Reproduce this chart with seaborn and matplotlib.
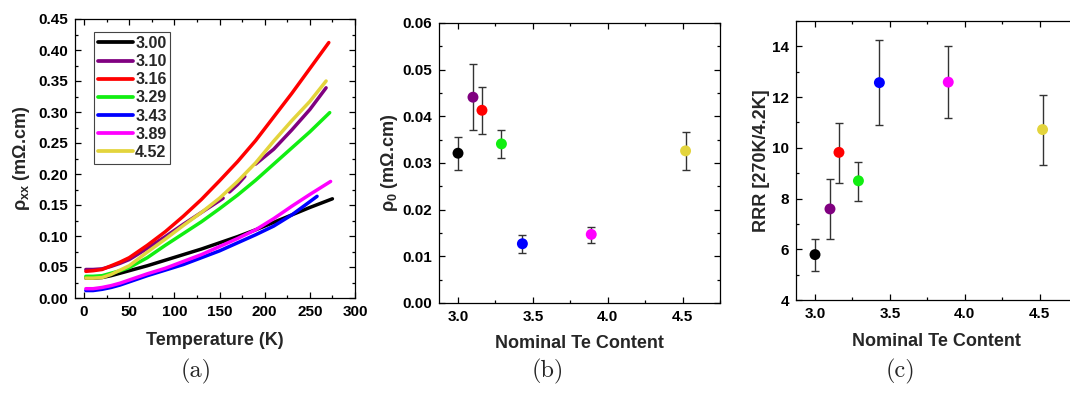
import numpy as np
import pandas as pd
import matplotlib
matplotlib.use("Agg")
import matplotlib.pyplot as plt
from matplotlib.ticker import MultipleLocator, FormatStrFormatter
import seaborn as sns

# ---------------- data ----------------
labels = ["3.00", "3.10", "3.16", "3.29", "3.43", "3.89", "4.52"]
te_content = [3.00, 3.10, 3.16, 3.29, 3.43, 3.89, 4.52]
colors = ["#000000", "#800080", "#FF0000", "#11EE11", "#0000FF", "#FF00FF", "#E3D43C"]

# panel (a): resistivity vs temperature
T_300 = [2, 10, 20, 30, 40, 50, 70, 90, 110, 130, 150, 170, 190, 210, 230, 250, 275]
R_300 = [0.032, 0.032, 0.033, 0.036, 0.040, 0.044, 0.052, 0.061, 0.070, 0.079, 0.089, 0.099,
         0.110, 0.122, 0.134, 0.146, 0.160]
T_310 = [2, 10, 20, 30, 40, 50, 70, 90, 110, 130, 150, 154, np.nan, 161, 170, 178, np.nan,
         190, 210, 230, 250, 268]
R_310 = [0.046, 0.046, 0.047, 0.051, 0.056, 0.062, 0.080, 0.099, 0.119, 0.138, 0.157, 0.161,
         np.nan, 0.171, 0.183, 0.196, np.nan, 0.216, 0.240, 0.271, 0.304, 0.339]
T_316 = [2, 10, 20, 30, 40, 50, 70, 90, 110, 130, 150, 170, 190, 210, 230, 250, 271]
R_316 = [0.043, 0.044, 0.046, 0.052, 0.058, 0.065, 0.085, 0.107, 0.132, 0.159, 0.189, 0.220,
         0.254, 0.292, 0.330, 0.370, 0.412]
T_329 = [2, 10, 20, 30, 40, 50, 70, 90, 110, 130, 150, 170, 190, 210, 230, 250, 272]
R_329 = [0.035, 0.035, 0.036, 0.040, 0.044, 0.049, 0.065, 0.085, 0.104, 0.123, 0.144, 0.166,
         0.190, 0.216, 0.242, 0.268, 0.299]
T_343 = [2, 10, 20, 30, 40, 50, 70, 90, 110, 130, 150, 170, 190, 210, 230, 245, 258]
R_343 = [0.012, 0.012, 0.014, 0.017, 0.021, 0.026, 0.036, 0.045, 0.054, 0.065, 0.076, 0.089,
         0.102, 0.116, 0.134, 0.150, 0.164]
T_389 = [2, 10, 20, 30, 40, 50, 70, 90, 110, 130, 150, 170, 190, 210, 230, 250, 273]
R_389 = [0.015, 0.015, 0.017, 0.020, 0.024, 0.029, 0.039, 0.048, 0.059, 0.070, 0.083, 0.096,
         0.110, 0.128, 0.148, 0.167, 0.188]
T_452 = [2, 10, 20, 30, 40, 50, 70, 90, 110, 130, 150, 170, 190, 210, 230, 250, 268]
R_452 = [0.032, 0.032, 0.033, 0.038, 0.045, 0.052, 0.074, 0.095, 0.117, 0.138, 0.161, 0.188,
         0.218, 0.253, 0.286, 0.317, 0.350]

# panel (b): residual resistivity
rho0 = [0.0321, 0.0441, 0.0413, 0.0341, 0.0127, 0.0147, 0.0326]
rho0_lo = [0.0284, 0.0370, 0.0363, 0.0310, 0.0108, 0.0129, 0.0284]
rho0_hi = [0.0356, 0.0512, 0.0463, 0.0371, 0.0145, 0.0163, 0.0367]

# panel (c): residual resistance ratio
rrr = [5.79, 7.59, 9.82, 8.70, 12.57, 12.59, 10.72]
rrr_lo = [5.13, 6.39, 8.63, 7.92, 10.89, 11.17, 9.33]
rrr_hi = [6.39, 8.78, 10.99, 9.43, 14.24, 14.00, 12.10]

# ---------------- style ----------------
sns.set_style("ticks")
plt.rcParams["font.family"] = ["Liberation Sans", "DejaVu Sans"]
plt.rcParams["font.weight"] = "bold"
plt.rcParams["mathtext.fontset"] = "custom"
plt.rcParams["mathtext.rm"] = "Liberation Sans"
plt.rcParams["mathtext.it"] = "Liberation Sans:italic"
plt.rcParams["mathtext.bf"] = "Liberation Sans:bold"
plt.rcParams["axes.edgecolor"] = "black"
plt.rcParams["axes.linewidth"] = 0.9

fig = plt.figure(figsize=(10.7, 4.09), dpi=100)
W, H = 1070, 409


def add_ax(l, t, r, b):
    return fig.add_axes([l / W, 1 - b / H, (r - l) / W, (b - t) / H])


ax_a = add_ax(75, 19, 355, 298)
ax_b = add_ax(439, 23, 720, 303)
ax_c = add_ax(796, 21, 1077, 300)

TICK_FS = 11
LABEL_FS = 13


def style_axis(ax):
    ax.tick_params(which="both", direction="in", top=True, right=True,
                   labelsize=TICK_FS, colors="black", width=0.9)
    ax.tick_params(which="major", length=4.5, pad=5)
    ax.tick_params(which="minor", length=2.5)
    for lab in ax.get_xticklabels() + ax.get_yticklabels():
        lab.set_fontweight("bold")
    for s in ax.spines.values():
        s.set_visible(True)
        s.set_color("black")


# ---------------- panel (a) ----------------
series_T = [T_300, T_310, T_316, T_329, T_343, T_389, T_452]
series_R = [R_300, R_310, R_316, R_329, R_343, R_389, R_452]
rows = []
for lab, Ts, Rs in zip(labels, series_T, series_R):
    seg = 0
    for t, r in zip(Ts, Rs):
        if np.isnan(t):
            seg += 1
            continue
        rows.append({"T": t, "rho": r, "Te": lab, "seg": seg})
df_a = pd.DataFrame(rows)

sns.lineplot(data=df_a, x="T", y="rho", hue="Te", hue_order=labels,
             palette=colors, units="seg", estimator=None, sort=False,
             linewidth=2.5, ax=ax_a, legend=True)
leg = ax_a.get_legend()
handles = list(leg.legend_handles)
for h in handles:
    h.set_linewidth(2.7)
ax_a.legend(handles, labels, loc="upper left", bbox_to_anchor=(0.068, 0.952),
            borderaxespad=0, prop={"weight": "bold", "size": 11.5},
            frameon=True, fancybox=False, edgecolor="#444444", framealpha=1,
            handlelength=2.2, handletextpad=0.15, labelspacing=0.2,
            borderpad=0.22)
ax_a.get_legend().get_frame().set_linewidth(0.8)

ax_a.set_xlim(-10, 300)
ax_a.set_ylim(0, 0.45)
ax_a.xaxis.set_major_locator(MultipleLocator(50))
ax_a.xaxis.set_minor_locator(MultipleLocator(25))
ax_a.yaxis.set_major_locator(MultipleLocator(0.05))
ax_a.yaxis.set_minor_locator(MultipleLocator(0.025))
ax_a.yaxis.set_major_formatter(FormatStrFormatter("%.2f"))
ax_a.set_xlabel("Temperature (K)", fontsize=LABEL_FS, fontweight="bold")
ax_a.set_ylabel(r"$\mathrm{\rho}_{\mathbf{xx}}$ (mΩ.cm)", fontsize=LABEL_FS, fontweight="bold")
style_axis(ax_a)

# ---------------- panels (b) and (c) ----------------
def point_panel(ax, yv, lo, hi):
    yerr = [np.array(yv) - np.array(lo), np.array(hi) - np.array(yv)]
    ax.errorbar(te_content, yv, yerr=yerr, fmt="none", ecolor="#333333",
                elinewidth=1.0, capsize=2.6, capthick=1.0, zorder=2)
    sns.scatterplot(x=te_content, y=yv, hue=labels, hue_order=labels,
                    palette=colors, s=62, linewidth=0, legend=False,
                    zorder=3, ax=ax)
    ax.set_xlim(2.873, 4.75)
    ax.xaxis.set_major_locator(MultipleLocator(0.5))
    ax.xaxis.set_minor_locator(MultipleLocator(0.25))
    ax.xaxis.set_major_formatter(FormatStrFormatter("%.1f"))
    ax.set_xlabel("Nominal Te Content", fontsize=LABEL_FS, fontweight="bold")


point_panel(ax_b, rho0, rho0_lo, rho0_hi)
ax_b.set_ylim(0, 0.06)
ax_b.yaxis.set_major_locator(MultipleLocator(0.01))
ax_b.yaxis.set_minor_locator(MultipleLocator(0.005))
ax_b.yaxis.set_major_formatter(FormatStrFormatter("%.2f"))
ax_b.set_ylabel(r"$\mathrm{\rho}_{0}$ (mΩ.cm)", fontsize=LABEL_FS, fontweight="bold")
style_axis(ax_b)

point_panel(ax_c, rrr, rrr_lo, rrr_hi)
ax_c.set_ylim(4, 15)
ax_c.yaxis.set_major_locator(MultipleLocator(2))
ax_c.yaxis.set_minor_locator(MultipleLocator(1))
ax_c.set_ylabel("RRR [270K/4.2K]", fontsize=LABEL_FS, fontweight="bold")
style_axis(ax_c)

# label positions
for ax, (l, r, t, b), ylab_x, xlab_top in [
        (ax_a, (75, 355, 19, 298), 22, 332),
        (ax_b, (439, 720, 23, 303), 390, 335),
        (ax_c, (796, 1077, 21, 300), 762, 333)]:
    ax.yaxis.label.set_va("center")
    ax.yaxis.label.set_rotation_mode("default")
    ax.yaxis.set_label_coords((ylab_x - l) / (r - l), 0.5)
    ax.xaxis.set_label_coords(0.5, -(xlab_top - b) / (b - t))

# captions
for txt, x in [("(a)", 196), ("(b)", 548), ("(c)", 900)]:
    fig.text(x / W, 1 - 371 / H, txt, family="cmr10", fontsize=17.5,
             fontweight="normal", ha="center", va="center")

fig.savefig("out.png", dpi=100)
